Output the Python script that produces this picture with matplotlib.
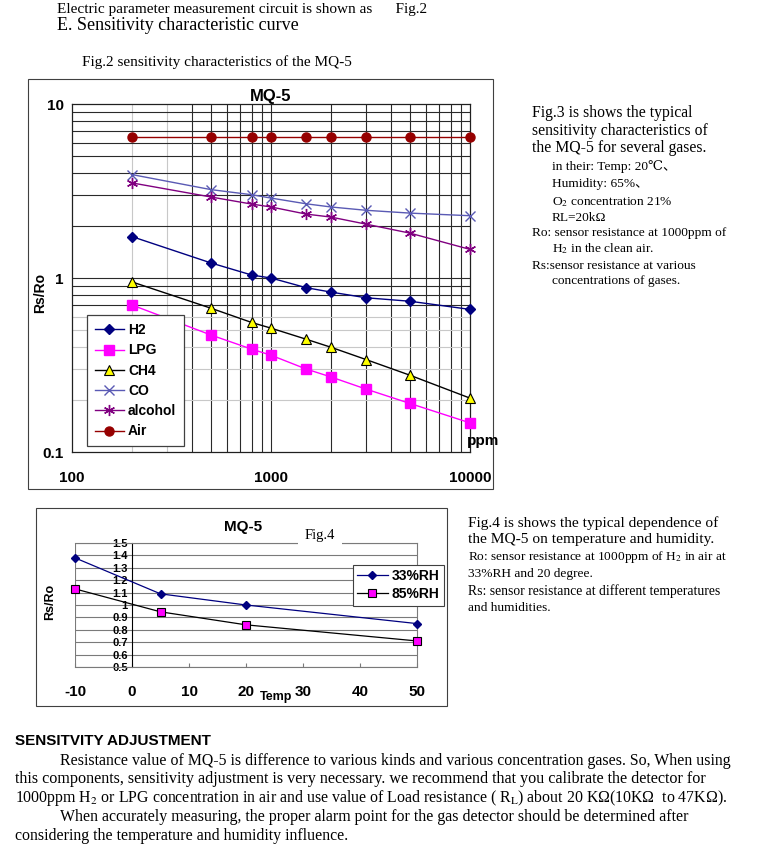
import matplotlib
matplotlib.use('Agg')
import matplotlib.pyplot as plt
from matplotlib.patches import Rectangle

plt.rcParams['mathtext.fontset'] = 'stix'

# ---- data: Fig.3 sensitivity curves (Rs/Ro vs ppm) ----
ppm = [200, 500, 800, 1000, 1500, 2000, 3000, 5000, 10000]
h2 = [1.73, 1.22, 1.04, 1.0, 0.88, 0.83, 0.77, 0.735, 0.66]
lpg = [0.70, 0.47, 0.39, 0.36, 0.30, 0.27, 0.23, 0.19, 0.147]
ch4 = [0.95, 0.67, 0.555, 0.515, 0.445, 0.40, 0.34, 0.276, 0.204]
co = [3.93, 3.22, 3.01, 2.88, 2.67, 2.56, 2.45, 2.36, 2.28]
alcohol = [3.52, 2.92, 2.66, 2.56, 2.33, 2.24, 2.04, 1.81, 1.46]
air = [6.5, 6.5, 6.5, 6.5, 6.5, 6.5, 6.5, 6.5, 6.5]
gas_names = ['H2', 'LPG', 'CH4', 'CO', 'alcohol', 'Air']

# ---- data: Fig.4 temperature / humidity ----
temp = [-10, 5, 20, 50]
rh33 = [1.38, 1.09, 1.0, 0.85]
rh85 = [1.13, 0.945, 0.84, 0.71]
rh_names = ['33%RH', '85%RH']
temp_ticks = [-10, 0, 10, 20, 30, 40, 50]
ratio_ticks = [0.5, 0.6, 0.7, 0.8, 0.9, 1.0, 1.1, 1.2, 1.3, 1.4, 1.5]
ratio_labels = ['0.5', '0.6', '0.7', '0.8', '0.9', '1', '1.1', '1.2', '1.3', '1.4', '1.5']

W, H = 760, 850
fig = plt.figure(figsize=(W / 100, H / 100), dpi=100)


def fx(x):
    return x / W


def fy(y):
    return 1 - y / H


SERIF = ['Liberation Serif', 'DejaVu Serif', 'Noto Sans CJK SC']
BOLD = dict(family='Liberation Sans', fontweight='bold')


def ptext(x, y, s, size=10.5, **kw):
    kw.setdefault('family', SERIF)
    fig.text(fx(x), fy(y), s, fontsize=size, va='center', ha='left', **kw)


# ---- header text ----
ptext(57, 9, 'Electric parameter measurement circuit is shown as      Fig.2', 11)
ptext(57, 26, 'E. Sensitivity characteristic curve', 13)
ptext(82, 62, 'Fig.2 sensitivity characteristics of the MQ-5', 11)

# frames around both charts
fig.add_artist(Rectangle((fx(28), fy(489)), fx(493) - fx(28), fy(79) - fy(489),
                         transform=fig.transFigure, fill=False, ec='#404040', lw=0.8))
fig.add_artist(Rectangle((fx(36), fy(706)), fx(447) - fx(36), fy(508) - fy(706),
                         transform=fig.transFigure, fill=False, ec='#404040', lw=0.8))

# ---- Fig.3 chart ----
ax1 = fig.add_axes([fx(72), fy(452), fx(470) - fx(72), fy(104) - fy(452)])
ax1.set_xscale('log')
ax1.set_yscale('log')
ax1.set_xlim(100, 10000)
ax1.set_ylim(0.1, 10)

for v in [200, 300]:
    ax1.axvline(v, color='#c8c8c8', lw=0.8, zorder=1)
for v in [400, 500, 600, 700, 800, 900, 1000, 2000, 3000, 4000, 5000, 6000, 7000, 8000, 9000]:
    ax1.axvline(v, color='#2a2a2a', lw=0.8, zorder=1)
for v in [0.2, 0.3, 0.4, 0.5, 0.6]:
    ax1.axhline(v, color='#c8c8c8', lw=0.8, zorder=1)
for v in [0.7, 0.8, 0.9, 1, 2, 3, 4, 5, 6, 7, 8, 9]:
    ax1.axhline(v, color='#2a2a2a', lw=0.8, zorder=1)

styles = [
    dict(color='#000080', marker='D', ms=5, mfc='#000080', mec='#000080'),
    dict(color='#ff00ff', marker='s', ms=7, mfc='#ff00ff', mec='#ff00ff'),
    dict(color='#000000', marker='^', ms=7, mfc='#ffff00', mec='#000000', mew=0.8),
    dict(color='#5a5ab4', marker='x', ms=7, mew=1.0),
    dict(color='#800080', marker=(6, 2, 0), ms=8, mew=1.0),
    dict(color='#960000', marker='o', ms=6.5, mfc='#960000', mec='#960000'),
]
for vals, name, st in zip([h2, lpg, ch4, co, alcohol, air], gas_names, styles):
    ax1.plot(ppm, vals, lw=1.0, label=name, zorder=3, clip_on=False, **st)

for s in ax1.spines.values():
    s.set_color('#202020')
    s.set_linewidth(0.9)
ax1.set_xticks([100, 1000, 10000], ['100', '1000', '10000'])
ax1.set_yticks([0.1, 1, 10], ['0.1', '1', '10'])
ax1.xaxis.set_minor_locator(plt.NullLocator())
ax1.yaxis.set_minor_locator(plt.NullLocator())
ax1.tick_params(length=0, labelsize=11)
ax1.tick_params(axis='x', pad=14)
ax1.tick_params(axis='y', pad=6)
for lab in ax1.get_xticklabels() + ax1.get_yticklabels():
    lab.set_fontweight('bold')
    lab.set_family('Liberation Sans')

ax1.text(0.5, 1.0, 'MQ-5', transform=ax1.transAxes, ha='center', va='bottom',
         fontsize=12, **BOLD)
fig.text(fx(40), fy(293), 'Rs/Ro', rotation=90, ha='center', va='center', fontsize=10, **BOLD)
fig.text(fx(483), fy(441), 'ppm', ha='center', va='center', fontsize=11, **BOLD)

leg1 = ax1.legend(loc='lower left', bbox_to_anchor=(fx(87), fy(446)),
                  bbox_transform=fig.transFigure, borderaxespad=0,
                  prop=dict(family='Liberation Sans', weight='bold', size=10),
                  handlelength=2.1, handletextpad=0.3, labelspacing=0.45,
                  borderpad=0.55, fancybox=False, framealpha=1)
leg1.get_frame().set_edgecolor('#404040')
leg1.get_frame().set_linewidth(0.9)
leg1.set_zorder(5)

# ---- Fig.3 description ----
ptext(532, 113, 'Fig.3 is shows the typical', 11.3)
ptext(532, 131, 'sensitivity characteristics of', 11.3)
ptext(532, 148, 'the MQ-5 for several gases.', 11.3)
ptext(552, 167, 'in their: Temp: 20\u2103\u3001', 9.6)
ptext(552, 184, 'Humidity: 65%\u3001', 9.6)
ptext(552, 202, 'O$_2$ concentration 21%', 9.6, family='Liberation Serif')
ptext(552, 218, 'RL=20k\u03a9', 9.6)
ptext(532, 233, 'Ro: sensor resistance at 1000ppm of', 9.6)
ptext(552, 249, 'H$_2$ in the clean air.', 9.6, family='Liberation Serif')
ptext(532, 266, 'Rs:sensor resistance at various', 9.6)
ptext(552, 281, 'concentrations of gases.', 9.6)

# ---- Fig.4 chart ----
ax2 = fig.add_axes([fx(75), fy(667), fx(417) - fx(75), fy(543) - fy(667)])
ax2.set_xlim(-10, 50)
ax2.set_ylim(0.5, 1.5)
ax2.plot(temp, rh33, color='#000080', lw=0.9, marker='D', ms=4.5, mfc='#000080',
         mec='#000080', label=rh_names[0], zorder=3, clip_on=False)
ax2.plot(temp, rh85, color='#000000', lw=0.9, marker='s', ms=6, mfc='#ff00ff',
         mec='#000000', mew=0.8, label=rh_names[1], zorder=3, clip_on=False)
ax2.set_yticks(ratio_ticks, ratio_labels)
ax2.set_xticks(temp_ticks, [str(t) for t in temp_ticks])
ax2.yaxis.grid(True, color='#7a7a7a', lw=0.8)
ax2.axvline(-10, color='#7a7a7a', lw=0.8)
ax2.spines['left'].set_position(('data', 0))
ax2.spines['left'].set_color('#000000')
for k in ['top', 'right', 'bottom']:
    ax2.spines[k].set_color('#7a7a7a')
    ax2.spines[k].set_linewidth(0.8)
ax2.tick_params(axis='y', length=0, pad=3, labelsize=8)
ax2.tick_params(axis='x', length=3, direction='in', color='#7a7a7a', pad=13, labelsize=11)
for lab in ax2.get_xticklabels() + ax2.get_yticklabels():
    lab.set_fontweight('bold')
    lab.set_family('Liberation Sans')

fig.text(fx(243), fy(527), 'MQ-5', ha='center', va='center', fontsize=11, **BOLD)
fig.text(fx(320), fy(535), 'Fig.4', ha='center', va='center', fontsize=10.5, family=SERIF,
         bbox=dict(boxstyle='square,pad=0.45', fc='white', ec='none'))
fig.text(fx(276), fy(697), 'Temp', ha='center', va='center', fontsize=9, **BOLD)
fig.text(fx(50), fy(602), 'Rs/Ro', rotation=90, ha='center', va='center', fontsize=9, **BOLD)

leg2 = ax2.legend(loc='upper left', bbox_to_anchor=(fx(353), fy(565)),
                  bbox_transform=fig.transFigure, borderaxespad=0,
                  prop=dict(family='Liberation Sans', weight='bold', size=10),
                  handlelength=2.2, handletextpad=0.3, labelspacing=0.3,
                  borderpad=0.3, fancybox=False, framealpha=1)
leg2.get_frame().set_edgecolor('#404040')
leg2.get_frame().set_linewidth(0.8)

# ---- Fig.4 description ----
ptext(468, 523, 'Fig.4 is shows the typical dependence of', 11.1)
ptext(468, 540, 'the MQ-5 on temperature and humidity.', 11.1)
ptext(468, 557, 'Ro: sensor resistance at 1000ppm of H$_2$ in air at', 9.6,
      family='Liberation Serif')
ptext(468, 574, '33%RH and 20 degree.', 9.6)
ptext(468, 591, 'Rs: sensor resistance at different temperatures', 9.8)
ptext(468, 608, 'and humidities.', 9.6)

# ---- sensitivity adjustment paragraph ----
fig.text(fx(15), fy(741), 'SENSITVITY ADJUSTMENT', fontsize=11, va='center', **BOLD)
ptext(60, 761, 'Resistance value of MQ-5 is difference to various kinds and various '
      'concentration gases. So, When using', 11.4)
ptext(15, 779, 'this components, sensitivity adjustment is very necessary. we recommend '
      'that you calibrate the detector for', 11.6)
ptext(15, 798, '1000ppm H$_2$ or LPG concentration in air and use value of Load resistance '
      '( R$_\\mathrm{L}$) about 20 K\u03a9(10K\u03a9  to 47K\u03a9).', 11.4, family='Liberation Serif')
ptext(60, 817, 'When accurately measuring, the proper alarm point for the gas detector '
      'should be determined after', 11.4)
ptext(15, 836, 'considering the temperature and humidity influence.', 11.4)

fig.savefig('out.png', dpi=100, facecolor='white')
